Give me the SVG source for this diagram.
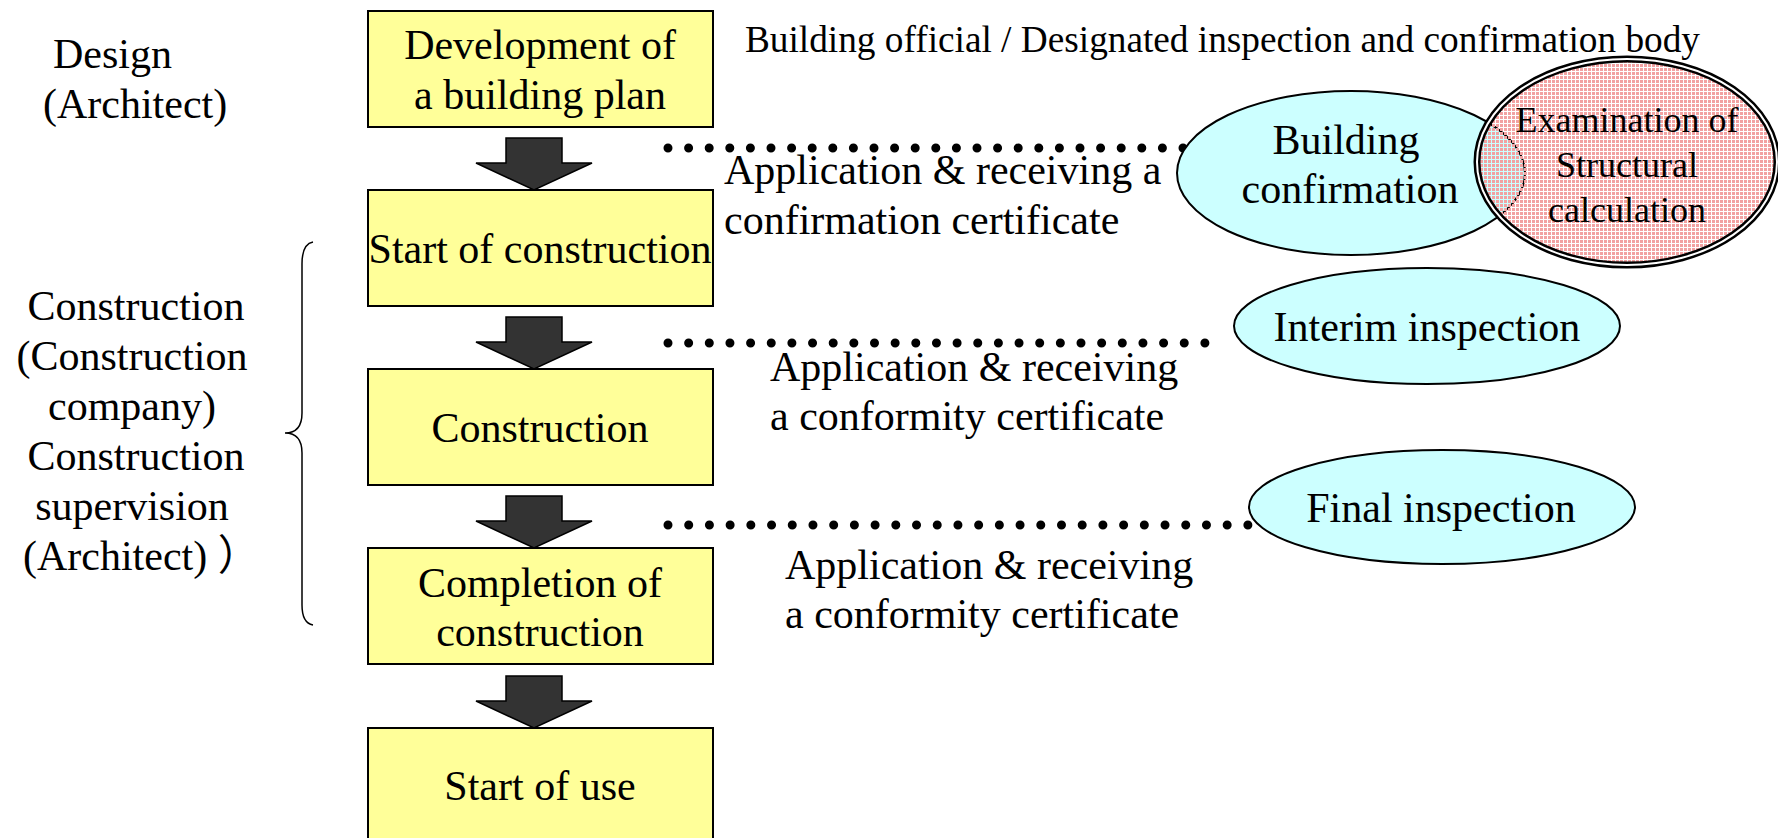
<svg xmlns="http://www.w3.org/2000/svg" width="1778" height="838" viewBox="0 0 1778 838">
  <style>
    text { font-family: "Liberation Serif", "Times New Roman", serif; fill: #000; }
    .t42 { font-size: 42px; }
    .t36 { font-size: 36px; }
    .mid { text-anchor: middle; }
    .step { fill: #FFFF99; stroke: #000; stroke-width: 2; }
    .office { fill: #CCFFFF; stroke: #000; stroke-width: 2; }
    .flow { fill: #333333; stroke: #000; stroke-width: 1.5; stroke-linejoin: miter; }
    .dots { fill: none; stroke: #000; stroke-width: 9; stroke-linecap: round; }
  </style>
  <defs>
    <!-- fine pink mesh used for the structural calculation bubble -->
    <pattern id="pinkMesh" width="4" height="4" patternUnits="userSpaceOnUse">
      <rect x="0" y="0" width="3" height="3" fill="#F2A2A2"/>
    </pattern>
  </defs>

  <rect width="1778" height="838" fill="#FFFFFF"/>

  <!-- header -->
  <text id="header" x="745" y="52" font-size="37" textLength="955" lengthAdjust="spacingAndGlyphs">Building official / Designated inspection and confirmation body</text>

  <!-- left side roles -->
  <g id="role-design">
    <text class="t42" x="53" y="68">Design</text>
    <text class="t42" x="43" y="118">(Architect)</text>
  </g>
  <g id="role-construction">
    <path d="M313,242 Q302,244 302,264 L302,413 Q302,433 285,433 Q302,433 302,453 L302,605 Q302,623 313,625" fill="none" stroke="#000" stroke-width="1.5"/>
    <text class="t42 mid" x="136" y="320">Construction</text>
    <text class="t42 mid" x="132" y="370">(Construction</text>
    <text class="t42 mid" x="132" y="420">company)</text>
    <text class="t42 mid" x="136" y="470">Construction</text>
    <text class="t42 mid" x="132" y="520">supervision</text>
    <text class="t42" x="23" y="570">(Architect) <tspan font-family="'Noto Sans CJK JP', sans-serif">）</tspan></text>
  </g>

  <!-- connectors: block arrows between steps and dotted links to the authority -->
  <g id="connectors">
    <polygon class="flow" points="506,138 562,138 562,163 592,163 534,190 476,163 506,163"/>
    <polygon class="flow" points="506,317 562,317 562,342 592,342 534,369 476,342 506,342"/>
    <polygon class="flow" points="506,496 562,496 562,521 592,521 534,548 476,521 506,521"/>
    <polygon class="flow" points="506,676 562,676 562,701 592,701 534,728 476,701 506,701"/>
    <line class="dots" x1="668" y1="148" x2="1184" y2="148" stroke-dasharray="0 20.6"/>
    <line class="dots" x1="668" y1="343" x2="1206" y2="343" stroke-dasharray="0 20.65"/>
    <line class="dots" x1="668" y1="525" x2="1249" y2="525" stroke-dasharray="0 20.71"/>
  </g>

  <!-- process steps -->
  <g id="step-plan">
    <rect class="step" x="368" y="11" width="345" height="116"/>
    <text class="t42 mid" x="540" y="59">Development of</text>
    <text class="t42 mid" x="540" y="109">a building plan</text>
  </g>
  <g id="step-start">
    <rect class="step" x="368" y="190" width="345" height="116"/>
    <text class="t42 mid" x="540" y="263">Start of construction</text>
  </g>
  <g id="step-construction">
    <rect class="step" x="368" y="369" width="345" height="116"/>
    <text class="t42 mid" x="540" y="442">Construction</text>
  </g>
  <g id="step-completion">
    <rect class="step" x="368" y="548" width="345" height="116"/>
    <text class="t42 mid" x="540" y="597">Completion of</text>
    <text class="t42 mid" x="540" y="646">construction</text>
  </g>
  <g id="step-use">
    <rect class="step" x="368" y="728" width="345" height="116"/>
    <text class="t42 mid" x="540" y="800">Start of use</text>
  </g>

  <!-- application labels -->
  <g id="label-confirmation">
    <text class="t42" x="724" y="184">Application &amp; receiving a</text>
    <text class="t42" x="724" y="234">confirmation certificate</text>
  </g>
  <g id="label-interim">
    <text class="t42" x="770" y="381">Application &amp; receiving</text>
    <text class="t42" x="770" y="430">a conformity certificate</text>
  </g>
  <g id="label-final">
    <text class="t42" x="785" y="579">Application &amp; receiving</text>
    <text class="t42" x="785" y="628">a conformity certificate</text>
  </g>

  <!-- authority side -->
  <g id="building-confirmation">
    <ellipse class="office" cx="1351" cy="173" rx="174" ry="82"/>
    <text class="t42 mid" x="1346" y="154">Building</text>
    <text class="t42 mid" x="1350" y="203">confirmation</text>
  </g>
  <g id="structural-calculation">
    <ellipse cx="1627" cy="162" rx="150" ry="103" fill="url(#pinkMesh)"/>
    <ellipse cx="1627" cy="162" rx="150" ry="103" fill="none" stroke="#000" stroke-width="7"/>
    <ellipse cx="1627" cy="162" rx="150" ry="103" fill="none" stroke="#FFFFFF" stroke-width="2"/>
    <text class="t36 mid" x="1627" y="132">Examination of</text>
    <text class="t36 mid" x="1627" y="177">Structural</text>
    <text class="t36 mid" x="1627" y="222">calculation</text>
  </g>
  <g id="interim-inspection">
    <ellipse class="office" cx="1427" cy="326" rx="193" ry="58"/>
    <text class="t42 mid" x="1427" y="341">Interim inspection</text>
  </g>
  <g id="final-inspection">
    <ellipse class="office" cx="1442" cy="507" rx="193" ry="57"/>
    <text class="t42 mid" x="1441" y="522">Final inspection</text>
  </g>
</svg>
